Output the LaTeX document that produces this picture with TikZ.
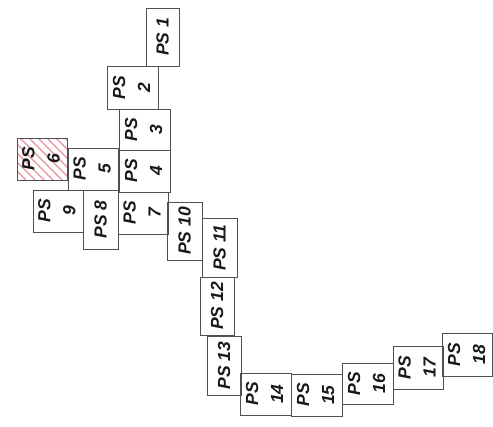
\documentclass[tikz,border=0pt]{standalone}
\usepackage{fontspec}
\setmainfont{Liberation Sans}
\definecolor{edge}{HTML}{505050}
\definecolor{hatch}{HTML}{E8909E}
\newcommand{\twoline}[1]{\rotatebox{90}{\begin{tabular}{@{}c@{}}PS\\#1\end{tabular}}}
\newcommand{\oneline}[1]{\rotatebox{90}{PS~#1}}
\begin{document}
\begin{tikzpicture}[x=1pt,y=-1pt,
  psbox/.style={draw=edge, line width=0.9pt, inner sep=0pt, outer sep=0pt,
    font=\fontsize{17.5}{25}\selectfont\bfseries\itshape, text=black!90}]
\useasboundingbox (0,0) rectangle (493,427);
% PS6 hatching
\coordinate (h6a) at (17,138);
\coordinate (h6b) at (67,180);
\begin{scope}
  \clip (h6a) rectangle (h6b);
  \foreach \d in {-60,-51,...,60}{
    \draw[hatch, line width=1.1pt] ([xshift=\d pt]h6a) -- ++(70,70);
  }
\end{scope}
\node[psbox, minimum width=33pt, minimum height=58pt] (ps1) at (162.5,37) {\oneline{1}};
\node[psbox, minimum width=51pt, minimum height=43pt] (ps2) at (132.5,87.5) {\twoline{2}};
\node[psbox, minimum width=51pt, minimum height=41pt] (ps3) at (144.5,129.5) {\twoline{3}};
\node[psbox, minimum width=51pt, minimum height=42pt] (ps4) at (144.5,171) {\twoline{4}};
\node[psbox, minimum width=50pt, minimum height=42pt] (ps5) at (93,169) {\twoline{5}};
\node[psbox, minimum width=50pt, minimum height=42pt] (ps6) at (42,159) {\twoline{6}};
\node[psbox, minimum width=50pt, minimum height=42pt] (ps9) at (58,211) {\twoline{9}};
\node[psbox, minimum width=35pt, minimum height=59pt] (ps8) at (100.5,219.5) {\oneline{8}};
\node[psbox, minimum width=50pt, minimum height=42pt] (ps7) at (143,213) {\twoline{7}};
\node[psbox, minimum width=35pt, minimum height=58pt] (ps10) at (184.5,231) {\oneline{10}};
\node[psbox, minimum width=35pt, minimum height=59pt] (ps11) at (219.5,247.5) {\oneline{11}};
\node[psbox, minimum width=34pt, minimum height=58pt] (ps12) at (217,306) {\oneline{12}};
\node[psbox, minimum width=34pt, minimum height=59pt] (ps13) at (224,365.5) {\oneline{13}};
\node[psbox, minimum width=51pt, minimum height=42pt] (ps14) at (265.5,394) {\twoline{14}};
\node[psbox, minimum width=51pt, minimum height=42pt] (ps15) at (316.5,395) {\twoline{15}};
\node[psbox, minimum width=51pt, minimum height=41pt] (ps16) at (367.5,383.5) {\twoline{16}};
\node[psbox, minimum width=50pt, minimum height=43pt] (ps17) at (418,367.5) {\twoline{17}};
\node[psbox, minimum width=49pt, minimum height=43pt] (ps18) at (467.5,354.5) {\twoline{18}};
\end{tikzpicture}
\end{document}
